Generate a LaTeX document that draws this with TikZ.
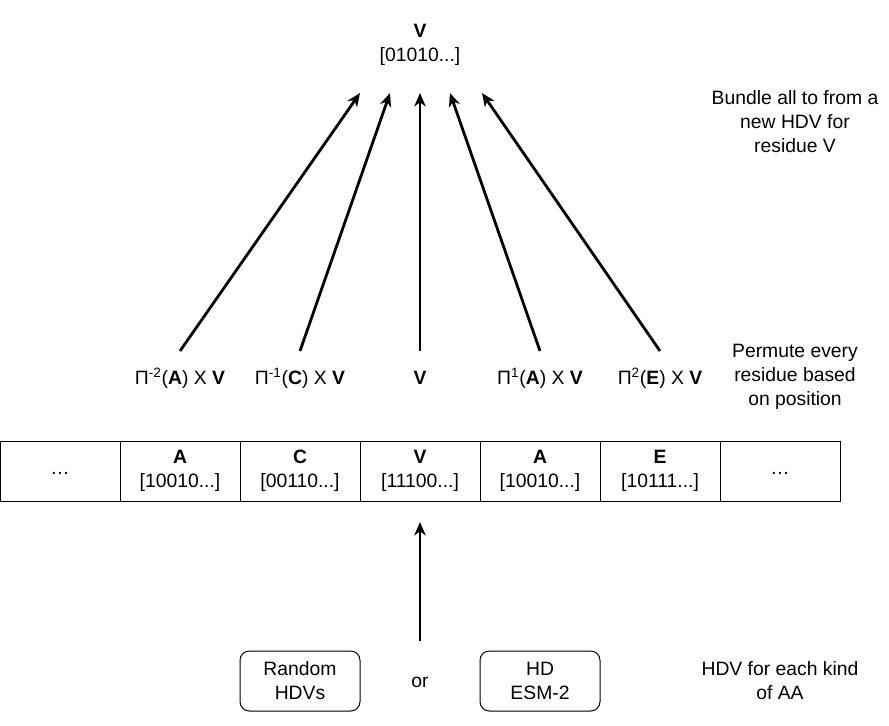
\documentclass[tikz,border=0pt]{standalone}
\usepackage{fontspec}
\setmainfont{Liberation Sans}
\usetikzlibrary{arrows.meta}
\begin{document}
\begin{tikzpicture}[x=0.75pt,y=-0.75pt,
  txt/.style={font=\fontsize{14.5}{18}\selectfont, align=center, inner sep=0pt},
  cell/.style={draw, line width=0.75pt, minimum width=90pt, minimum height=45pt, inner sep=0pt, align=center, font=\fontsize{14.5}{18}\selectfont},
  rbox/.style={draw, line width=0.75pt, rounded corners=7pt, minimum width=90pt, minimum height=45pt, inner sep=0pt, align=center, font=\fontsize{14.5}{18}\selectfont},
  arr/.style={line width=2.1pt, -{Stealth[length=10pt,width=8.5pt,inset=3pt]}}]
\useasboundingbox (0,0) rectangle (889,725);
% top
\node[txt] (top) at (420,45) {\textbf{V}\\{[01010...]}};
\coordinate (t1) at (360,93);
\coordinate (t2) at (390,93);
\coordinate (t3) at (420,93);
\coordinate (t4) at (450,93);
\coordinate (t5) at (482,93);
\coordinate (s1) at (180,351);
\coordinate (s2) at (300,351);
\coordinate (s3) at (420,351);
\coordinate (s4) at (540,351);
\coordinate (s5) at (660,351);
\draw[arr] (s1) -- (t1);
\draw[arr] (s2) -- (t2);
\draw[arr] (s3) -- (t3);
\draw[arr] (s4) -- (t4);
\draw[arr] (s5) -- (t5);
% labels
\node[txt] (l1) at (180,378) {Π\textsuperscript{-2}(\textbf{A}) X \textbf{V}};
\node[txt] (l2) at (300,378) {Π\textsuperscript{-1}(\textbf{C}) X \textbf{V}};
\node[txt] (l3) at (420,378) {\textbf{V}};
\node[txt] (l4) at (540,378) {Π\textsuperscript{1}(\textbf{A}) X \textbf{V}};
\node[txt] (l5) at (660,378) {Π\textsuperscript{2}(\textbf{E}) X \textbf{V}};
% right notes
\node[txt] (n1) at (795,122) {Bundle all to from a\\new HDV for\\residue V};
\node[txt] (n2) at (795,377) {Permute every\\residue based\\on position};
\node[txt] (n3) at (780,681) {HDV for each kind\\of AA};
% cells
\node[cell] (c1) at (60,471) {\raisebox{-5pt}{…}};
\node[cell] (c2) at (180,471) {\textbf{A}\\{[10010...]}};
\node[cell] (c3) at (300,471) {\textbf{C}\\{[00110...]}};
\node[cell] (c4) at (420,471) {\textbf{V}\\{[11100...]}};
\node[cell] (c5) at (540,471) {\textbf{A}\\{[10010...]}};
\node[cell] (c6) at (660,471) {\textbf{E}\\{[10111...]}};
\node[cell] (c7) at (780,471) {\raisebox{-5pt}{…}};
% bottom
\node[rbox] (r1) at (300,681) {Random\\HDVs};
\node[rbox] (r2) at (540,681) {HD\\ESM-2};
\node[txt] (or) at (420,682) {or};
\coordinate (b0) at (420,641);
\coordinate (b1) at (420,522);
\draw[arr] (b0) -- (b1);
\end{tikzpicture}
\end{document}
